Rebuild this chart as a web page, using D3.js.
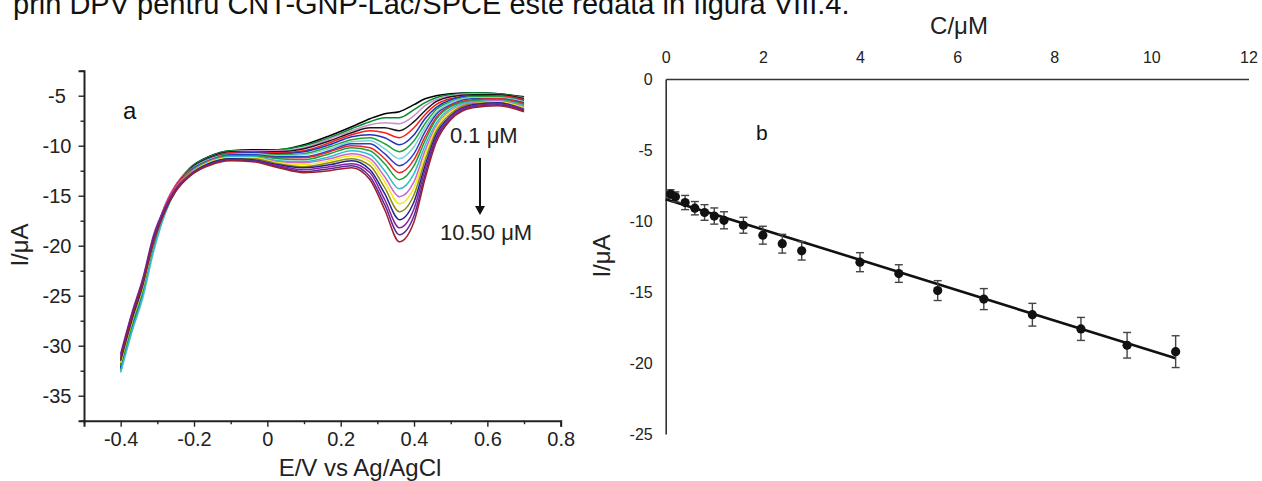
<!DOCTYPE html>
<html><head><meta charset="utf-8">
<script src="https://cdn.jsdelivr.net/npm/d3@7"></script>
<style>
html,body{margin:0;padding:0;background:#fff;}
svg{display:block;font-family:"Liberation Sans",Arial,Helvetica,sans-serif;}
</style></head>
<body>
<svg id="chart" width="1262" height="481"></svg>
<script>
// ---------- Panel a: DPV curves ----------
const potentials = [-0.40,-0.37,-0.34,-0.31,-0.28,-0.25,-0.21,-0.16,-0.10,-0.04,0.03,0.10,0.17,0.23,0.28,0.32,0.36,0.40,0.43,0.46,0.50,0.56,0.63,0.70];
const curveLabels = ["0.1","0.2","0.4","0.6","0.8","1.0","1.2","1.6","2.0","2.4","2.8","4.0","4.8","5.6","6.55","7.55","8.55","9.5","10.5"];
const curveColors = ["#000000","#008a2e","#c993c9","#1a1a1a","#ff1a1a","#2233bb","#22a33a","#7fd0d8","#2a3fc4","#e8262a","#1f9e3c","#33bccc","#cc66cc","#f2ea12","#8a8a12","#23238c","#8a1f9e","#5a2a9a","#9c1f2a"];
const c01 = [-32.2,-28.2,-24.6,-19.8,-16.2,-14.0,-12.2,-11.1,-10.5,-10.4,-10.4,-9.9,-9.0,-8.1,-7.3,-6.8,-6.6,-5.9,-5.3,-5.0,-4.8,-4.7,-4.8,-5.1];
const c02 = [-32.4,-28.4,-24.9,-20.1,-16.4,-14.1,-12.2,-11.1,-10.5,-10.5,-10.4,-10.0,-9.2,-8.3,-7.6,-7.2,-7.2,-6.4,-5.7,-5.2,-4.9,-4.7,-4.8,-5.2];
const c03 = [-31.9,-27.9,-24.3,-19.6,-16.0,-13.9,-12.3,-11.2,-10.6,-10.5,-10.5,-10.2,-9.3,-8.5,-7.9,-7.7,-7.8,-7.0,-6.0,-5.4,-5.0,-4.8,-4.9,-5.2];
const c04 = [-32.1,-28.1,-24.7,-19.9,-16.3,-14.1,-12.3,-11.2,-10.6,-10.6,-10.6,-10.3,-9.5,-8.7,-8.2,-8.2,-8.5,-7.6,-6.5,-5.6,-5.1,-4.9,-4.9,-5.3];
const c05 = [-31.8,-27.8,-24.2,-19.5,-16.1,-14.0,-12.4,-11.3,-10.7,-10.6,-10.7,-10.5,-9.7,-8.9,-8.5,-8.7,-9.2,-8.2,-6.9,-5.9,-5.3,-5.0,-5.0,-5.4];
const c06 = [-32.3,-28.3,-24.8,-20.0,-16.5,-14.2,-12.4,-11.3,-10.8,-10.7,-10.8,-10.6,-9.9,-9.1,-8.9,-9.2,-9.9,-8.9,-7.3,-6.2,-5.4,-5.0,-5.1,-5.5];
const c07 = [-32.5,-28.5,-25.0,-20.3,-16.7,-14.3,-12.4,-11.4,-10.8,-10.8,-10.9,-10.8,-10.1,-9.4,-9.2,-9.8,-10.6,-9.5,-7.8,-6.4,-5.6,-5.1,-5.1,-5.6];
const c08 = [-32.7,-28.7,-25.3,-20.6,-16.9,-14.4,-12.5,-11.4,-10.9,-10.8,-11.0,-10.9,-10.3,-9.6,-9.5,-10.3,-11.3,-10.1,-8.2,-6.7,-5.7,-5.2,-5.2,-5.6];
const c09 = [-32.2,-28.2,-24.7,-20.0,-16.5,-14.3,-12.5,-11.5,-10.9,-10.9,-11.1,-11.1,-10.5,-9.8,-9.8,-10.8,-12.0,-10.8,-8.6,-6.9,-5.9,-5.3,-5.3,-5.7];
const c10 = [-31.6,-27.6,-24.0,-19.4,-16.2,-14.1,-12.6,-11.5,-11.0,-11.0,-11.2,-11.2,-10.6,-10.0,-10.2,-11.3,-12.7,-11.4,-9.1,-7.2,-6.0,-5.4,-5.3,-5.8];
const c11 = [-32.0,-28.0,-24.5,-19.8,-16.5,-14.3,-12.6,-11.6,-11.0,-11.0,-11.3,-11.4,-10.8,-10.2,-10.5,-11.8,-13.4,-12.0,-9.5,-7.4,-6.1,-5.5,-5.4,-5.9];
const c12 = [-32.6,-28.6,-25.1,-20.4,-16.9,-14.5,-12.7,-11.6,-11.1,-11.1,-11.5,-11.6,-11.1,-10.5,-10.9,-12.5,-14.3,-12.8,-10.0,-7.8,-6.3,-5.6,-5.5,-6.0];
const c13 = [-31.4,-27.4,-23.8,-19.2,-16.2,-14.2,-12.7,-11.7,-11.2,-11.2,-11.6,-11.7,-11.3,-10.8,-11.3,-13.1,-15.1,-13.6,-10.5,-8.1,-6.5,-5.7,-5.5,-6.1];
const c14 = [-31.7,-27.7,-24.2,-19.6,-16.5,-14.4,-12.8,-11.7,-11.2,-11.2,-11.7,-11.9,-11.5,-11.0,-11.6,-13.6,-15.8,-14.2,-11.0,-8.3,-6.6,-5.8,-5.6,-6.2];
const c15 = [-31.2,-27.2,-23.6,-19.1,-16.3,-14.3,-12.8,-11.8,-11.3,-11.3,-11.8,-12.1,-11.7,-11.3,-12.0,-14.2,-16.6,-14.9,-11.5,-8.6,-6.8,-5.8,-5.7,-6.3];
const c16 = [-31.5,-27.5,-24.0,-19.5,-16.6,-14.5,-12.9,-11.8,-11.3,-11.4,-11.9,-12.2,-11.9,-11.5,-12.4,-14.8,-17.4,-15.6,-12.0,-8.9,-7.0,-5.9,-5.7,-6.4];
const c17 = [-30.8,-26.8,-23.3,-18.9,-16.2,-14.3,-12.9,-11.9,-11.4,-11.5,-12.0,-12.4,-12.1,-11.8,-12.7,-15.4,-18.2,-16.3,-12.4,-9.2,-7.1,-6.0,-5.8,-6.4];
const c18 = [-31.0,-27.0,-23.5,-19.2,-16.4,-14.5,-13.0,-11.9,-11.4,-11.5,-12.1,-12.6,-12.3,-12.0,-13.1,-15.9,-18.9,-17.0,-12.9,-9.4,-7.3,-6.1,-5.9,-6.5];
const c19 = [-31.3,-27.2,-23.8,-19.6,-16.6,-14.6,-13.0,-12.0,-11.5,-11.6,-12.2,-12.7,-12.5,-12.2,-13.4,-16.4,-19.6,-17.6,-13.3,-9.7,-7.4,-6.2,-6.0,-6.6];
const curveSeries = [c01,c02,c03,c04,c05,c06,c07,c08,c09,c10,c11,c12,c13,c14,c15,c16,c17,c18,c19];

const xTicksA = [-0.4,-0.2,0,0.2,0.4,0.6,0.8];
const xTickLabelsA = ["-0.4","-0.2","0","0.2","0.4","0.6","0.8"];
const xMinorA = [-0.5,-0.3,-0.1,0.1,0.3,0.5,0.7];
const yTicksA = [-35,-30,-25,-20,-15,-10,-5];
const yTickLabelsA = ["-35","-30","-25","-20","-15","-10","-5"];
const yMinorA = [-37.5,-32.5,-27.5,-22.5,-17.5,-12.5,-7.5,-2.5];

// ---------- Panel b: calibration ----------
const concentrations = [0.1,0.2,0.4,0.6,0.8,1.0,1.2,1.6,2.0,2.4,2.8,4.0,4.8,5.6,6.55,7.55,8.55,9.5,10.5];
const peakCurrents = [-8.1,-8.3,-8.7,-9.1,-9.4,-9.65,-9.95,-10.3,-11.0,-11.6,-12.1,-12.9,-13.7,-14.9,-15.5,-16.6,-17.6,-18.75,-19.2];
const errors = [0.3,0.35,0.5,0.47,0.55,0.57,0.6,0.56,0.63,0.66,0.65,0.67,0.62,0.7,0.74,0.8,0.81,0.9,1.12];
const fitC = [0, 10.5];
const fitI = [-8.47, -19.67];
const xTicksB = [0,2,4,6,8,10,12];
const yTicksB = [0,-5,-10,-15,-20,-25];

const svg = d3.select("#chart");
svg.append("rect").attr("width",1262).attr("height",481).attr("fill","#fff");

// header text (cut at top, as in the source page)
svg.append("text").attr("x",13).attr("y",14).attr("font-size",29).attr("fill","#111")
  .text("prin DPV pentru CNT-GNP-Lac/SPCE este redata in figura VIII.4.");

// ----- Panel a -----
const xA = d3.scaleLinear([-0.5,0.8],[84,560.7]);
const yA = d3.scaleLinear([-37.5,-2.5],[420.7,70.7]);
const gA = svg.append("g");

const line = d3.line().x((d,i)=>xA(potentials[i])).y(d=>yA(d)).curve(d3.curveMonotoneX);
gA.append("g").selectAll("path").data(curveSeries).join("path")
  .attr("d",line).attr("fill","none")
  .attr("stroke",(d,i)=>curveColors[i]).attr("stroke-width",1.5);

// x axis
const axXA = gA.append("g").attr("transform",`translate(0,${yA(-37.5)})`)
  .call(d3.axisBottom(xA).tickValues(xTicksA).tickSize(6).tickPadding(5.5)
    .tickFormat((d,i)=>xTickLabelsA[i]));
axXA.select(".domain").attr("stroke","#222").attr("stroke-width",2);
axXA.selectAll(".tick line").attr("stroke","#222").attr("stroke-width",1.4);
axXA.selectAll("text").attr("font-size",20).attr("fill","#222").attr("font-family","Liberation Sans, Arial");
const axXAm = gA.append("g").attr("transform",`translate(0,${yA(-37.5)})`)
  .call(d3.axisBottom(xA).tickValues(xMinorA).tickSize(3.5).tickFormat(""));
axXAm.select(".domain").remove();
axXAm.selectAll(".tick line").attr("stroke","#222").attr("stroke-width",1.4);

// y axis
const axYA = gA.append("g").attr("transform",`translate(${xA(-0.5)},0)`)
  .call(d3.axisLeft(yA).tickValues(yTicksA).tickSize(5.5).tickFormat((d,i)=>yTickLabelsA[i]));
axYA.select(".domain").attr("stroke","#222").attr("stroke-width",2);
axYA.selectAll(".tick line").attr("stroke","#222").attr("stroke-width",1.4);
axYA.selectAll("text").attr("font-size",20).attr("fill","#222").attr("x",-27).attr("text-anchor","middle").attr("font-family","Liberation Sans, Arial");
const axYAm = gA.append("g").attr("transform",`translate(${xA(-0.5)},0)`)
  .call(d3.axisLeft(yA).tickValues(yMinorA).tickSize(3.5).tickFormat(""));
axYAm.select(".domain").remove();
axYAm.selectAll(".tick line").attr("stroke","#222").attr("stroke-width",1.4);

gA.append("text").attr("x",360).attr("y",476).attr("text-anchor","middle").attr("font-size",24).attr("fill","#222").text("E/V vs Ag/AgCl");
gA.append("text").attr("transform","translate(28,245) rotate(-90)").attr("text-anchor","middle").attr("font-size",24).attr("fill","#222").text("I/μA");
gA.append("text").attr("x",123).attr("y",119).attr("font-size",24).attr("fill","#111").text("a");
gA.append("text").attr("x",450).attr("y",143).attr("font-size",22).attr("fill","#222").text("0.1 μM");
gA.append("text").attr("x",440).attr("y",240).attr("font-size",22).attr("fill","#222").text("10.50 μM");
gA.append("line").attr("x1",480).attr("x2",480).attr("y1",158).attr("y2",208).attr("stroke","#111").attr("stroke-width",2);
gA.append("path").attr("d","M475,206 L485,206 L480,215 Z").attr("fill","#111");

// ----- Panel b -----
const xB = d3.scaleLinear([0,12],[665.7,1248.5]);
const yB = d3.scaleLinear([-25,0],[434,79]);
const gB = svg.append("g");

const axXB = gB.append("g").attr("transform",`translate(0,${yB(0)})`)
  .call(d3.axisTop(xB).tickValues(xTicksB).tickSizeInner(0).tickSizeOuter(0).tickPadding(16).tickFormat(d=>String(d)));
axXB.select(".domain").attr("stroke","#333").attr("stroke-width",1.6);
axXB.selectAll("text").attr("font-size",16).attr("fill","#222").attr("font-family","Liberation Sans, Arial");

const axYB = gB.append("g").attr("transform",`translate(${xB(0)},0)`)
  .call(d3.axisLeft(yB).tickValues(yTicksB).tickSizeInner(0).tickSizeOuter(0).tickPadding(13).tickFormat(d=>String(d)));
axYB.select(".domain").attr("stroke","#333").attr("stroke-width",1.6);
axYB.selectAll("text").attr("font-size",16).attr("fill","#222").attr("font-family","Liberation Sans, Arial");

gB.append("text").attr("x",959).attr("y",34).attr("text-anchor","middle").attr("font-size",24).attr("fill","#222").text("C/μM");
gB.append("text").attr("transform","translate(610,256) rotate(-90)").attr("text-anchor","middle").attr("font-size",24).attr("fill","#222").text("I/μA");
gB.append("text").attr("x",756).attr("y",140).attr("font-size",21).attr("fill","#111").text("b");

// fit line
gB.append("line").attr("x1",xB(fitC[0])).attr("y1",yB(fitI[0])).attr("x2",xB(fitC[1])).attr("y2",yB(fitI[1]))
  .attr("stroke","#111").attr("stroke-width",2.6);

// error bars
const eb = gB.append("g").attr("stroke","#444").attr("stroke-width",1.4);
concentrations.forEach((c,i)=>{
  const x = xB(c), y1 = yB(peakCurrents[i]+errors[i]), y2 = yB(peakCurrents[i]-errors[i]);
  eb.append("line").attr("x1",x).attr("x2",x).attr("y1",y1).attr("y2",y2);
  eb.append("line").attr("x1",x-4).attr("x2",x+4).attr("y1",y1).attr("y2",y1);
  eb.append("line").attr("x1",x-4).attr("x2",x+4).attr("y1",y2).attr("y2",y2);
});
gB.append("g").selectAll("circle").data(concentrations).join("circle")
  .attr("cx",d=>xB(d)).attr("cy",(d,i)=>yB(peakCurrents[i])).attr("r",4.6).attr("fill","#111");
</script>
</body></html>
